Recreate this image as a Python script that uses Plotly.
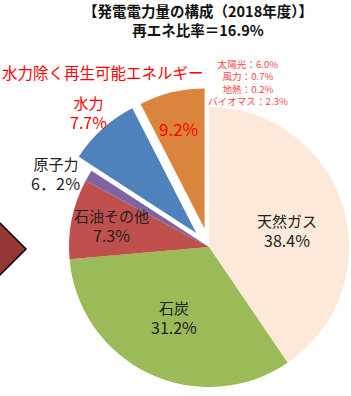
import math
import plotly.graph_objects as go

W, H = 351, 396

# Slices, clockwise from 12 o'clock (shares as drawn in the picture)
categories = ["天然ガス", "石炭", "石油その他", "原子力", "水力", "水力除く再生可能エネルギー"]
slice_share = [40.5, 33.1, 9.25, 1.3, 8.3, 7.55]
colors = ["#FDE9D9", "#9BBB59", "#C0504D", "#8064A2", "#4F81BD", "#DB843D"]
exploded = [False, False, False, False, True, True]

# Label texts
label_names = ["天然ガス", "石炭", "石油その他", "原子力", "水力", ""]
label_values = ["38.4%", "31.2%", "7.3%", "6．2％", "7.7%", "9.2%"]
renew_breakdown = ["太陽光：6.0%", "風力：0.7%", "地熱：0.2%", "バイオマス：2.3%"]
title_lines = ["【発電電力量の構成（2018年度）】", "再エネ比率＝16.9%"]
group_label = "水力除く再生可能エネルギー"

# geometry (pixels)
cx, cy, r = 209, 247, 140
pull_px = 19

FONT = "Noto Sans CJK JP"


def domain(dx=0.0, dy=0.0):
    x0 = (cx + dx - r) / W
    x1 = (cx + dx + r) / W
    y0 = 1 - (cy + dy + r) / H
    y1 = 1 - (cy + dy - r) / H
    return dict(x=[x0, x1], y=[y0, y1])


fig = go.Figure()

# base pie (non-exploded slices)
base_colors = [c if not e else "rgba(0,0,0,0)" for c, e in zip(colors, exploded)]
fig.add_trace(go.Pie(
    labels=categories, values=slice_share, sort=False, direction="clockwise",
    rotation=0, marker=dict(colors=base_colors, line=dict(width=0)),
    textinfo="none", hoverinfo="skip", showlegend=False, domain=domain()))

# exploded slices, each as its own trace shifted along its bisector
total = sum(slice_share)
cum = 0.0
for i, v in enumerate(slice_share):
    start = cum
    cum += v
    if not exploded[i]:
        continue
    mid = (start + v / 2) / total * 2 * math.pi
    dx = pull_px * math.sin(mid)
    dy = -pull_px * math.cos(mid)
    cols = [colors[j] if j == i else "rgba(0,0,0,0)" for j in range(len(colors))]
    fig.add_trace(go.Pie(
        labels=categories, values=slice_share, sort=False, direction="clockwise",
        rotation=0, marker=dict(colors=cols, line=dict(width=0)),
        textinfo="none", hoverinfo="skip", showlegend=False, domain=domain(dx, dy)))

annotations = []


def ann(text, x, y, size, color="#222222"):
    annotations.append(dict(text=text, x=x / W, y=1 - y / H, xref="paper", yref="paper",
                            showarrow=False, xanchor="center", yanchor="middle",
                            font=dict(family=FONT, size=size, color=color)))


# title
ann("<b>" + title_lines[0] + "</b><br><b>" + title_lines[1] + "</b>", 198, 20, 14.5, "#111111")
# group label
ann(group_label, 103, 72, 15.5, "#FF0000")
# breakdown
ann("<br>".join(renew_breakdown), 248, 83, 9.6, "#F24A4A")

# slice labels (center x, center y of two-line block)
pos = {
    "天然ガス": (287, 231, "#222222"),
    "石炭": (174, 318, "#222222"),
    "石油その他": (111, 226, "#222222"),
    "原子力": (56, 174, "#222222"),
    "水力": (88, 113, "#FF0000"),
}
for name, val in zip(label_names, label_values):
    if name in pos:
        x, y, col = pos[name]
        ann(name + "<br><span style='font-size:16px'>" + val + "</span>", x, y, 15, col)
    else:
        ann(val, 178, 129, 17, "#FF0000")

# decorative diamond at left edge
pts = [(-30, 249), (-2, 221), (26, 249), (-2, 277)]
path = "M " + " L ".join(f"{x / W:.4f},{1 - y / H:.4f}" for x, y in pts) + " Z"

fig.update_layout(
    width=W, height=H, margin=dict(l=0, r=0, t=0, b=0),
    paper_bgcolor="white", plot_bgcolor="white",
    annotations=annotations,
    shapes=[dict(type="path", path=path, xref="paper", yref="paper",
                 fillcolor="#953735", line=dict(color="black", width=1.5))],
)

fig.write_html("out.html")
